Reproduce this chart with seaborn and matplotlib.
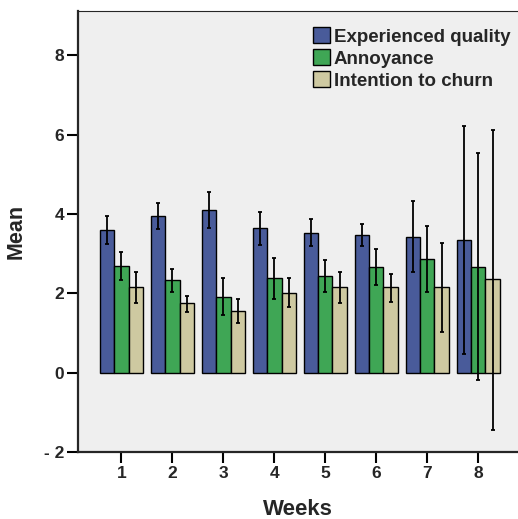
import pandas as pd
import matplotlib
matplotlib.use("Agg")
import matplotlib.pyplot as plt
import seaborn as sns

# values (mean and 95% CI bounds)
weeks = ["1", "2", "3", "4", "5", "6", "7", "8"]
measures = ["Experienced quality", "Annoyance", "Intention to churn"]

eq_mean = [3.60, 3.96, 4.11, 3.64, 3.53, 3.48, 3.43, 3.34]
eq_lo = [3.24, 3.63, 3.64, 3.22, 3.19, 3.19, 2.54, 0.48]
eq_hi = [3.96, 4.28, 4.55, 4.06, 3.87, 3.76, 4.34, 6.21]

ann_mean = [2.70, 2.33, 1.92, 2.38, 2.43, 2.67, 2.86, 2.67]
ann_lo = [2.34, 2.03, 1.46, 1.87, 2.03, 2.22, 2.03, -0.19]
ann_hi = [3.04, 2.62, 2.38, 2.88, 2.83, 3.13, 3.69, 5.54]

churn_mean = [2.15, 1.75, 1.55, 2.01, 2.16, 2.15, 2.15, 2.35]
churn_lo = [1.75, 1.54, 1.25, 1.65, 1.76, 1.79, 1.03, -1.44]
churn_hi = [2.54, 1.94, 1.86, 2.38, 2.54, 2.49, 3.28, 6.13]

y_ticks = [-2, 0, 2, 4, 6, 8]
y_tick_labels = ["- 2", "0", "2", "4", "6", "8"]

colors = ["#3b54a7", "#2eb74b", "#d5cf9a"]

means = [eq_mean, ann_mean, churn_mean]
lows = [eq_lo, ann_lo, churn_lo]
highs = [eq_hi, ann_hi, churn_hi]

df = pd.concat(
    [pd.DataFrame({"Weeks": weeks, "measure": m, "Mean": v}) for m, v in zip(measures, means)],
    ignore_index=True,
)

sns.set_style("ticks")
plt.rcParams["font.family"] = ["Liberation Sans", "DejaVu Sans"]
plt.rcParams["font.weight"] = "bold"

fig = plt.figure(figsize=(5.18, 5.19), dpi=100)
ax = fig.add_axes([78 / 518, 67 / 519, 440 / 518, 441 / 519])
ax.set_facecolor("#efefef")

sns.barplot(
    data=df, x="Weeks", y="Mean", hue="measure", hue_order=measures,
    palette=colors, width=0.85, edgecolor="black", linewidth=1.0,
    errorbar=None, ax=ax,
)

# confidence intervals on top of the bars
for container, m, lo, hi in zip(ax.containers, means, lows, highs):
    xs = [p.get_x() + p.get_width() / 2 for p in container.patches]
    yerr = [[a - b for a, b in zip(m, lo)], [b - a for a, b in zip(m, hi)]]
    ax.errorbar(xs, m, yerr=yerr, fmt="none", ecolor="black",
                elinewidth=1.3, capsize=1.5, capthick=1.3, zorder=5)

ax.set_xlim(-0.85, 7.78)
ax.set_ylim(-2, 9.12)
ax.set_yticks(y_ticks)
ax.set_yticklabels(y_tick_labels)

ax.tick_params(axis="both", direction="out", length=8, width=1.5,
               labelsize=12.5, pad=2, color="black")
for lab in ax.get_xticklabels() + ax.get_yticklabels():
    lab.set_fontweight("bold")

ax.spines["left"].set_linewidth(1.6)
ax.spines["bottom"].set_linewidth(1.6)
ax.spines["top"].set_linewidth(0.8)
ax.spines["right"].set_visible(False)

ax.set_xlabel("Weeks", fontsize=16, fontweight="bold", labelpad=13)
ax.set_ylabel("Mean", fontsize=15.5, fontweight="bold", labelpad=12)

ax.legend(
    loc="upper left", bbox_to_anchor=(0.535, 0.963), frameon=False,
    handlelength=0.9, handleheight=0.9, handletextpad=0.2,
    labelspacing=0.2, borderpad=0, borderaxespad=0,
    prop={"weight": "bold", "size": 13.5},
)

plt.savefig("out.png", dpi=100)
plt.close()
